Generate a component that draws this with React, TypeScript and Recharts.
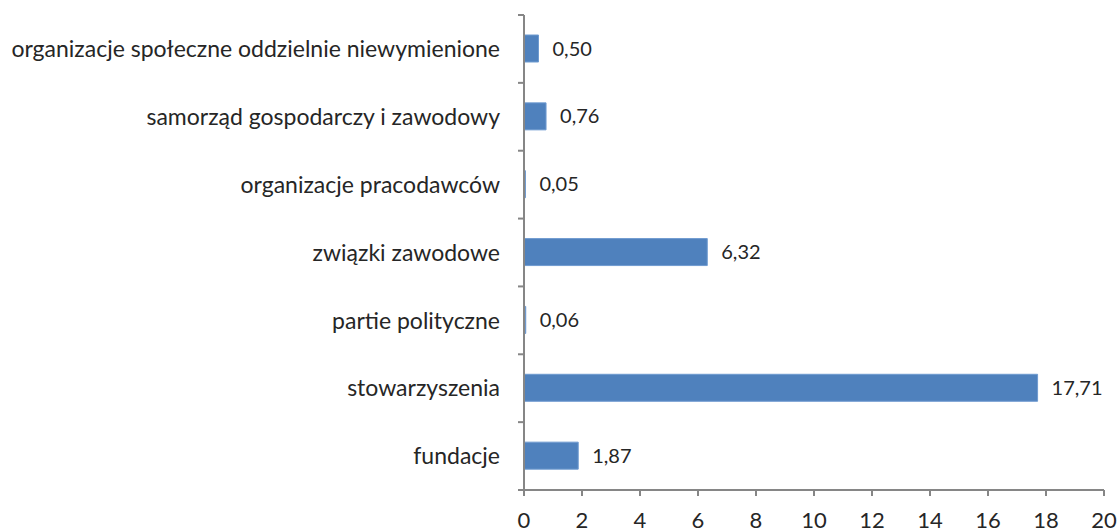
import { Bar, BarChart, LabelList, XAxis, YAxis } from "recharts";

const categories = [
  "organizacje społeczne oddzielnie niewymienione",
  "samorząd gospodarczy i zawodowy",
  "organizacje pracodawców",
  "związki zawodowe",
  "partie polityczne",
  "stowarzyszenia",
  "fundacje",
];
const values = [0.5, 0.76, 0.05, 6.32, 0.06, 17.71, 1.87];
const xTicks = [0, 2, 4, 6, 8, 10, 12, 14, 16, 18, 20];

const data = categories.map((name, i) => ({ name, value: values[i] }));

const font = "Lato, sans-serif";
const axisColor = "#868686";
const textColor = "#262626";

const W = 1120;
const H = 532;
const M = { top: 15, right: 16, bottom: 0, left: 0 };
const X_AXIS_H = 42;
const TICK_MARGIN = 24;
const band = (H - M.top - M.bottom - X_AXIS_H) / categories.length;

function CategoryTick(props: any) {
  const { x, y, payload, index } = props;
  const ax = x + TICK_MARGIN;
  const half = payload?.offset || band / 2;
  return (
    <g>
      <text
        x={x}
        y={y}
        dy="0.355em"
        textAnchor="end"
        fontSize={23}
        fill={textColor}
        fontFamily={font}
      >
        {payload.value}
      </text>
      <line x1={ax - 6} x2={ax} y1={y - half} y2={y - half} stroke={axisColor} strokeWidth={2} />
      {index === categories.length - 1 && (
        <line x1={ax - 6} x2={ax} y1={y + half} y2={y + half} stroke={axisColor} strokeWidth={2} />
      )}
    </g>
  );
}

export default function App() {
  return (
    <div style={{ position: "absolute", left: 0, top: 0, width: W, height: H, background: "#fff" }}>
      <BarChart width={W} height={H} data={data} layout="vertical" margin={M} barCategoryGap={0}>
        <XAxis
          type="number"
          domain={[0, 20]}
          ticks={xTicks}
          stroke={axisColor}
          strokeWidth={2}
          tickSize={6}
          tickMargin={16}
          height={X_AXIS_H}
          tick={{ fontSize: 22, fill: textColor, fontFamily: font }}
        />
        <YAxis
          type="category"
          dataKey="name"
          width={524}
          stroke={axisColor}
          strokeWidth={2}
          tickLine={false}
          tickSize={0}
          tickMargin={TICK_MARGIN}
          interval={0}
          tick={<CategoryTick />}
        />
        <Bar
          dataKey="value"
          fill="#4F81BD"
          stroke="#6f9bd0"
          strokeWidth={1}
          barSize={27}
          isAnimationActive={false}
        >
          <LabelList
            dataKey="value"
            position="right"
            offset={14}
            formatter={(v: number) => v.toFixed(2).replace(".", ",")}
            style={{ fontSize: 20, fill: textColor, fontFamily: font }}
          />
        </Bar>
      </BarChart>
    </div>
  );
}
